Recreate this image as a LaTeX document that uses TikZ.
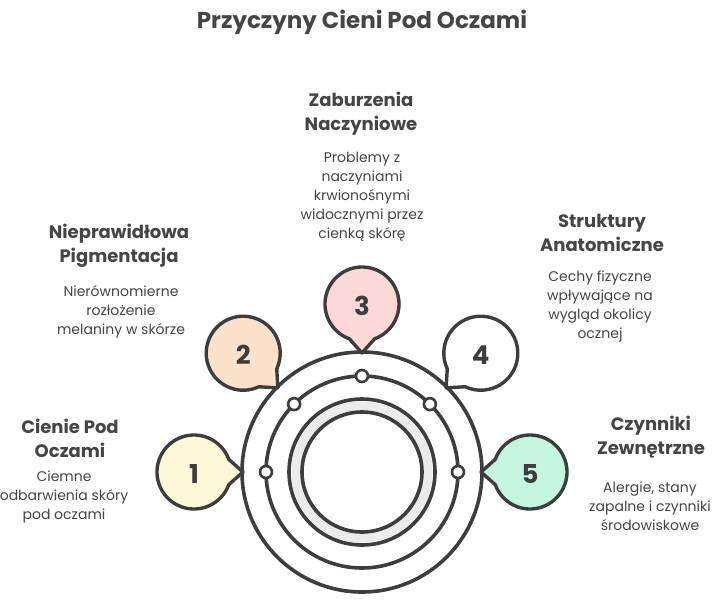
\documentclass[tikz,border=0pt]{standalone}
\usepackage{fontspec}
\setmainfont{Poppins}
\usetikzlibrary{calc}
\definecolor{ink}{HTML}{3D3D3D}
\definecolor{txt}{HTML}{454545}
\definecolor{cA}{HTML}{FCF7D6}
\definecolor{cB}{HTML}{FDE2CB}
\definecolor{cC}{HTML}{FDD8D8}
\definecolor{cD}{HTML}{FFFFFF}
\definecolor{cE}{HTML}{C4F6DF}
\definecolor{band}{HTML}{EBEBEB}
\tikzset{
  ringline/.style={draw=ink, line width=3.6pt},
  dotnode/.style={circle, draw=ink, line width=2.6pt, fill=white, minimum size=12pt, inner sep=0pt},
  numnode/.style={circle, minimum size=74pt, inner sep=0pt, text=ink, font=\bfseries\fontsize{26}{26}\selectfont},
  bubble/.style={draw=ink, line width=3.4pt, line join=round},
  headtxt/.style={align=center, text=txt, inner sep=0pt, font=\bfseries\fontsize{18}{24}\selectfont},
  desctxt/.style={align=center, text=txt, inner sep=0pt, font=\fontsize{14}{19}\selectfont},
}
\begin{document}
\begin{tikzpicture}[x=1pt, y=-1pt]
\useasboundingbox (0,0) rectangle (720,603);
\fill[white] (0,0) rectangle (720,603);

\node[text=txt, font=\bfseries\fontsize{23}{23}\selectfont] (title) at (362,22) {Przyczyny Cieni Pod Oczami};

\coordinate (ctr) at (362,472);
% rings
\draw[band, line width=9pt] (ctr) circle[radius=66];
\draw[ringline] (ctr) circle[radius=120];
\draw[ringline] (ctr) circle[radius=96];
\draw[ringline] (ctr) circle[radius=73];
\draw[ringline] (ctr) circle[radius=60];

% dots on the middle ring and bubbles
\foreach \a/\c/\n in {180/cA/1, 225/cB/2, 270/cC/3, 315/cD/4, 0/cE/5}{
  \node[dotnode] (dot\n) at ($(ctr)+(\a:96)$) {};
  \coordinate (bc\n) at ($(ctr)+(\a:168)$);
  \pgfmathsetmacro{\d}{\a+180}
  \filldraw[bubble, fill=\c]
    ($(bc\n)+(\d+20:37)$) arc[start angle=\d+20, end angle=\d+340, radius=37]
    -- ($(bc\n)+(\d:49)$) -- cycle;
  \node[numnode] (b\n) at ($(bc\n)+(0,2)$) {\n};
}

% texts
\node[headtxt] (h1) at (70,438) {Cienie Pod\\Oczami};
\node[desctxt] (d1) at (64,497) {Ciemne\\odbarwienia skóry\\pod oczami};

\node[headtxt] (h2) at (119,246) {Nieprawidłowa\\Pigmentacja};
\node[desctxt] (d2) at (121,312) {Nierównomierne\\rozłożenie\\melaniny w skórze};

\node[headtxt] (h3) at (361,114) {Zaburzenia\\Naczyniowe};
\node[desctxt] (d3) at (362,197) {Problemy z\\naczyniami\\krwionośnymi\\widocznymi przez\\cienką skórę};

\node[headtxt] (h4) at (602,233) {Struktury\\Anatomiczne};
\node[desctxt] (d4) at (600,306) {Cechy fizyczne\\wpływające na\\wygląd okolicy\\ocznej};

\node[headtxt] (h5) at (651,437) {Czynniki\\Zewnętrzne};
\node[desctxt] (d5) at (650,506) {Alergie, stany\\zapalne i czynniki\\środowiskowe};
\end{tikzpicture}
\end{document}
